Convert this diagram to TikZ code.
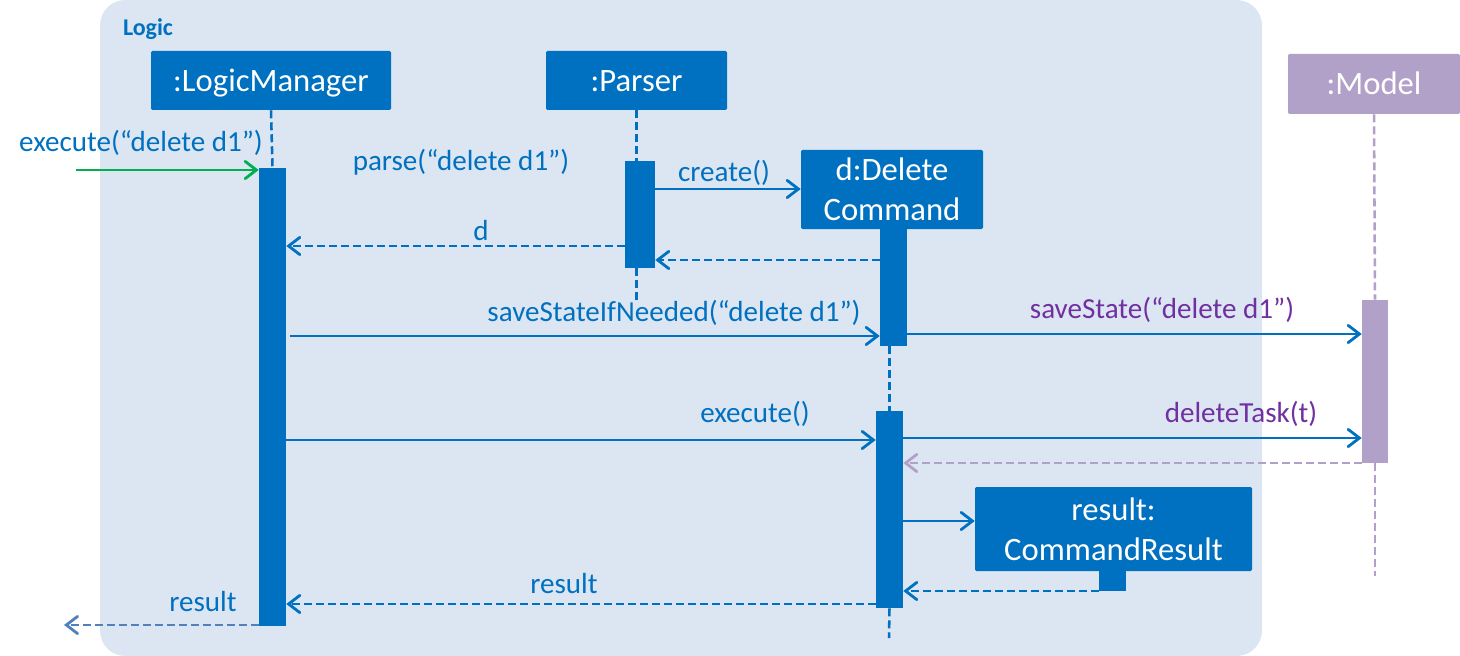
\documentclass[tikz,border=0pt]{standalone}
\usepackage{fontspec}
\setmainfont{Carlito}
\usetikzlibrary{arrows.meta,fit}
\definecolor{umlblue}{HTML}{0070C0}
\definecolor{logicbg}{HTML}{DCE6F2}
\definecolor{lav}{HTML}{B1A0C7}
\definecolor{purp}{HTML}{7030A0}
\definecolor{grn}{HTML}{00B050}
\definecolor{ltblue}{HTML}{4F81BD}
\newcommand{\boxtxt}[1]{\raisebox{0pt}[16pt][0pt]{#1}}
\tikzset{
  lbl/.style={font=\fontsize{21.8}{26}\selectfont, text=umlblue, inner sep=0pt},
  plbl/.style={lbl, text=purp},
  wh/.style 2 args={minimum width=#1*0.75pt, minimum height=#2*0.75pt},
  objbox/.style={fill=umlblue, rounded corners=1pt, inner sep=0pt, text=white, align=center, font=\fontsize{24.5}{30}\selectfont},
  bar/.style={fill=umlblue, inner sep=0pt},
  tip/.style={-{Straight Barb[length=8.5pt,width=13pt,line cap=round]}},
  msg/.style={draw=umlblue, line width=2.1pt, tip},
  ret/.style={msg, dash pattern=on 6pt off 3pt},
  life/.style={draw=umlblue, line width=1.9pt, dash pattern=on 6pt off 3pt},
}
\begin{document}
\begin{tikzpicture}[x=0.75pt,y=-0.75pt]
\useasboundingbox (0,0) rectangle (1460,656);
% Logic frame
\node[fit={(100,0)(1262,656)}, fill=logicbg, rounded corners=19pt, inner sep=0pt] (logic) {};
\node[font=\bfseries\fontsize{18}{20}\selectfont, text=umlblue, inner sep=0pt] (logiclbl) at (148,29) {Logic};
% objects
\node[objbox, wh={240}{59}] (lm) at (271,80.5) {\boxtxt{:LogicManager}};
\node[objbox, wh={181}{59}] (parser) at (636.5,80.5) {\boxtxt{:Parser}};
\node[objbox, wh={182}{79}] (dc) at (892,189.5) {d:Delete\\Command};
\node[objbox, fill=lav, wh={172}{60}] (model) at (1374,84) {\boxtxt{:Model}};
\node[objbox, wh={277}{84}] (cr) at (1113.5,529) {result:\\CommandResult};
% activation bars
\node[bar, fit={(259,168)(286,626)}] (lmbar) {};
\node[bar, fit={(625,161)(655,268)}] (pbar) {};
\node[bar, fit={(880,229)(907,346)}] (dcbar1) {};
\node[bar, fit={(876,411)(903,608)}] (dcbar2) {};
\node[bar, fill=lav, fit={(1362,300)(1388,463)}] (mbar) {};
\node[bar, fit={(1099,571)(1126,591)}] (crbar) {};
% free ends
\coordinate (exsrc) at (76,170);
\coordinate (exdst) at (64,625);
\coordinate (pend) at (636.5,300);
\coordinate (dcend) at (889,638);
\coordinate (mend) at (1375,576);
% lifelines
\draw[life] (lm.south) -- (lmbar.north);
\draw[life] (parser.south) -- (parser.south |- pbar.north);
\draw[life] (parser.south |- pbar.south) -- (pend);
\draw[life] (dcbar2.north |- dcbar1.south) -- (dcbar2.north);
\draw[life] (dcbar2.south) -- (dcend);
\draw[life, draw=lav] (model.south) -- (mbar.north);
\draw[life, draw=lav] (mbar.south) -- (mend);
% messages
\draw[msg, draw=grn] (exsrc) -- (lmbar.west |- exsrc);
\node[lbl] (l1) at (141,143) {execute(“delete d1”)};
\node[lbl] (l2) at (461,162) {parse(“delete d1”)};
\draw[msg] (pbar.east |- 0,189) -- (dc.west |- 0,189);
\node[lbl] (l3) at (724,173) {create()};
\draw[ret] (dcbar1.west |- 0,260) -- (pbar.east |- 0,260);
\draw[ret] (pbar.west |- 0,246) -- (lmbar.east |- 0,246);
\node[lbl] (l4) at (481,231) {d};
\draw[msg] ([xshift=3pt]lmbar.east |- 0,336) -- (dcbar1.west |- 0,336);
\node[lbl] (l5) at (674,313) {saveStateIfNeeded(“delete d1”)};
\draw[msg] (dcbar1.east |- 0,334) -- (mbar.west |- 0,334);
\node[plbl] (l6) at (1162,310) {saveState(“delete d1”)};
\draw[msg] (lmbar.east |- 0,440) -- (dcbar2.west |- 0,440);
\node[lbl] (l7) at (755,414) {execute()};
\draw[msg] (dcbar2.east |- 0,438) -- (mbar.west |- 0,438);
\node[plbl] (l8) at (1241,414) {deleteTask(t)};
\draw[ret, draw=lav] (mbar.west |- 0,463) -- (dcbar2.east |- 0,463);
\draw[msg] (dcbar2.east |- 0,521) -- (cr.west |- 0,521);
\draw[ret] (crbar.west |- 0,591) -- (dcbar2.east |- 0,591);
\draw[ret] (dcbar2.west |- 0,604) -- (lmbar.east |- 0,604);
\node[lbl] (l9) at (564,584) {result};
\draw[ret, draw=ltblue] (lmbar.west |- 0,625) -- (exdst);
\node[lbl] (l10) at (203,602) {result};
\end{tikzpicture}
\end{document}
